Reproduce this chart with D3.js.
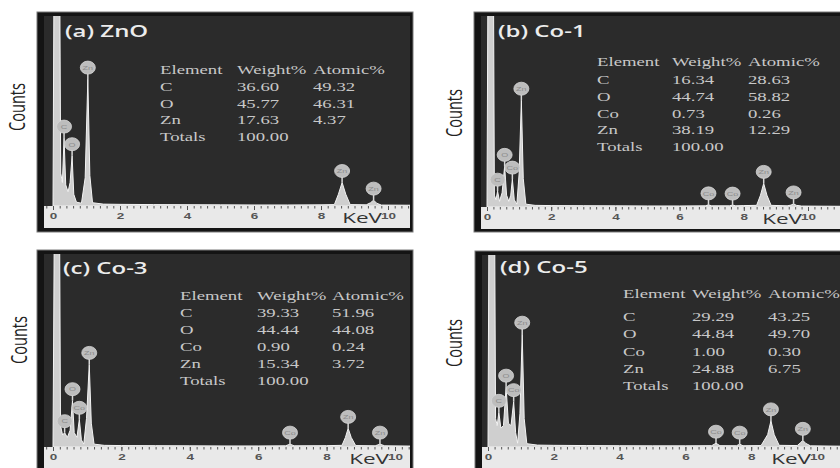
<!DOCTYPE html>
<html><head><meta charset="utf-8">
<script src="https://cdn.jsdelivr.net/npm/d3@7"></script>
<style>body{margin:0;background:#fff}svg{display:block}</style>
</head><body>
<svg id="fig" width="840" height="468"></svg>
<script>
// ---- data ----
const keVTicks = [0, 2, 4, 6, 8, 10];
const tableHeader = ["Element", "Weight%", "Atomic%"];
const panelTitles = ["(a) ZnO", "(b) Co-1", "(c) Co-3", "(d) Co-5"];

// composition tables: [element, weight %, atomic %]
const compA = [["C", "36.60", "49.32"], ["O", "45.77", "46.31"], ["Zn", "17.63", "4.37"], ["Totals", "100.00", ""]];
const compB = [["C", "16.34", "28.63"], ["O", "44.74", "58.82"], ["Co", "0.73", "0.26"], ["Zn", "38.19", "12.29"], ["Totals", "100.00", ""]];
const compC = [["C", "39.33", "51.96"], ["O", "44.44", "44.08"], ["Co", "0.90", "0.24"], ["Zn", "15.34", "3.72"], ["Totals", "100.00", ""]];
const compD = [["C", "29.29", "43.25"], ["O", "44.84", "49.70"], ["Co", "1.00", "0.30"], ["Zn", "24.88", "6.75"], ["Totals", "100.00", ""]];

// EDS spectra: [energy keV, counts]
const spectrumA = [[0, 0], [0.03, 5000], [0.2, 5000], [0.23, 700], [0.28, 500], [0.33, 1445], [0.38, 450], [0.45, 300], [0.51, 500], [0.57, 1070], [0.62, 250], [0.7, 80], [0.85, 60], [0.96, 600], [1.04, 2700], [1.1, 650], [1.18, 70], [1.5, 40], [2, 35], [3, 30], [4, 28], [5, 25], [6, 22], [7, 22], [8, 25], [8.4, 30], [8.52, 250], [8.63, 500], [8.74, 250], [8.87, 30], [9.35, 25], [9.48, 70], [9.57, 125], [9.66, 60], [9.8, 20], [11, 15]];
const spectrumB = [[0, 0], [0.03, 5000], [0.2, 5000], [0.23, 250], [0.28, 150], [0.33, 335], [0.39, 120], [0.47, 300], [0.55, 860], [0.61, 250], [0.68, 120], [0.74, 250], [0.79, 590], [0.85, 150], [0.93, 60], [1.0, 700], [1.07, 2260], [1.13, 600], [1.21, 60], [1.5, 35], [2, 30], [3, 28], [4, 25], [5, 22], [6, 22], [6.8, 25], [6.9, 45], [7.0, 25], [7.55, 25], [7.65, 40], [7.75, 25], [8.0, 30], [8.4, 35], [8.52, 250], [8.62, 500], [8.72, 250], [8.85, 35], [9.35, 25], [9.47, 40], [9.55, 65], [9.64, 35], [9.8, 20], [11, 15]];
const spectrumC = [[0, 0], [0.04, 5000], [0.19, 5000], [0.22, 450], [0.28, 250], [0.34, 300], [0.42, 200], [0.5, 350], [0.57, 970], [0.62, 300], [0.7, 200], [0.77, 580], [0.83, 150], [0.9, 60], [0.98, 600], [1.06, 1730], [1.12, 500], [1.2, 60], [1.5, 35], [2, 30], [3, 28], [4, 25], [5, 22], [6, 22], [6.8, 25], [6.93, 60], [7.05, 25], [8.0, 28], [8.45, 35], [8.55, 200], [8.63, 390], [8.72, 200], [8.85, 30], [9.42, 25], [9.56, 60], [9.7, 25], [11, 15]];
const spectrumD = [[0, 0], [0.03, 5000], [0.2, 5000], [0.23, 600], [0.28, 450], [0.33, 730], [0.39, 400], [0.47, 450], [0.55, 1260], [0.62, 500], [0.7, 450], [0.78, 955], [0.84, 300], [0.9, 80], [0.97, 700], [1.04, 2375], [1.1, 600], [1.18, 70], [1.5, 40], [2, 35], [3, 30], [4, 27], [5, 25], [6, 25], [6.8, 28], [6.93, 80], [7.05, 28], [7.55, 26], [7.65, 60], [7.75, 26], [8.3, 30], [8.5, 260], [8.6, 550], [8.7, 260], [8.85, 35], [9.4, 30], [9.5, 90], [9.57, 140], [9.65, 80], [9.8, 25], [11, 15]];

// peak identification markers: [element, energy keV, peak counts]
const markersA = [["C", 0.33, 1445], ["O", 0.57, 1070], ["Zn", 1.04, 2700], ["Zn", 8.63, 500], ["Zn", 9.57, 125]];
const markersB = [["C", 0.33, 335], ["O", 0.55, 860], ["Co", 0.79, 590], ["Zn", 1.07, 2260], ["Co", 6.9, 45], ["Co", 7.65, 40], ["Zn", 8.62, 500], ["Zn", 9.55, 65]];
const markersC = [["C", 0.34, 300], ["O", 0.57, 970], ["Co", 0.77, 580], ["Zn", 1.06, 1730], ["Co", 6.93, 60], ["Zn", 8.63, 390], ["Zn", 9.56, 60]];
const markersD = [["C", 0.33, 730], ["O", 0.55, 1260], ["Co", 0.78, 955], ["Zn", 1.04, 2375], ["Co", 6.93, 80], ["Co", 7.65, 60], ["Zn", 8.6, 550], ["Zn", 9.57, 140]];

// ---- layout ----
const SX = 1.5; // horizontal stretch applied to all lettering
const panels = [
  {title: panelTitles[0], comp: compA, spec: spectrumA, marks: markersA,
   fx: 37, fy: 12, fw: 376, fh: 220, x0: 53, x10: 388, base: 206,
   tx: 65, ty: 37, cols: [160, 237, 313], hy: 74, ry: 91, gap: 16.7, cx: 18, cy: 107},
  {title: panelTitles[1], comp: compB, spec: spectrumB, marks: markersB,
   fx: 474, fy: 12, fw: 380, fh: 220, x0: 487, x10: 808, base: 207,
   tx: 498, ty: 37, cols: [597, 672, 748], hy: 66, ry: 84, gap: 16.8, cx: 455, cy: 113},
  {title: panelTitles[2], comp: compC, spec: spectrumC, marks: markersC,
   fx: 37, fy: 250, fw: 376, fh: 230, x0: 53, x10: 395, base: 447,
   tx: 63, ty: 274, cols: [180, 257, 332], hy: 300, ry: 317, gap: 17, cx: 20, cy: 340},
  {title: panelTitles[3], comp: compD, spec: spectrumD, marks: markersD,
   fx: 475, fy: 251, fw: 380, fh: 230, x0: 488, x10: 817, base: 447,
   tx: 500, ty: 273, cols: [623, 692, 768], hy: 298, ry: 321, gap: 17.3, cx: 455, cy: 343}
];

const svg = d3.select("#fig");

function label(g, x, y, str) {
  return g.append("text")
    .attr("transform", `translate(${x},${y}) scale(${SX},1)`)
    .text(str);
}

panels.forEach((p, i) => {
  const g = svg.append("g");
  const ix = p.fx + 7, iy = p.fy + 4, iw = p.fw - 10;

  // outer frame and dark plotting field
  g.append("rect").attr("x", p.fx).attr("y", p.fy).attr("width", p.fw).attr("height", p.fh)
    .attr("fill", "#141414").attr("stroke", "#7a7a7a").attr("stroke-width", 1);
  g.append("rect").attr("x", ix).attr("y", iy).attr("width", iw).attr("height", p.base - iy)
    .attr("fill", "#2b2b2b");

  const x = d3.scaleLinear().domain([0, 10]).range([p.x0, p.x10]);
  const y = d3.scaleLinear().domain([0, 4000]).range([p.base, iy + 2]);

  const clipId = "clip" + i;
  g.append("clipPath").attr("id", clipId).append("rect")
    .attr("x", ix).attr("y", iy).attr("width", iw).attr("height", p.base - iy);

  // spectrum
  const area = d3.area().x(d => x(d[0])).y0(p.base).y1(d => y(d[1]));
  g.append("path").datum(p.spec).attr("clip-path", `url(#${clipId})`)
    .attr("d", area).attr("fill", "#cfcfcf")
    .attr("stroke", "#f3f3f3").attr("stroke-width", 1);

  // peak markers
  const mk = g.append("g").selectAll("g").data(p.marks).join("g")
    .attr("transform", d => `translate(${x(d[1])},${y(d[2])})`);
  mk.append("line").attr("x1", 0).attr("x2", 0).attr("y1", 0).attr("y2", -6)
    .attr("stroke", "#d8d8d8").attr("stroke-width", 1.5);
  mk.append("ellipse").attr("cx", 0).attr("cy", -11.5).attr("rx", 7.5).attr("ry", 6.5)
    .attr("fill", "#bdbdbd").attr("stroke", "#d6d6d6").attr("stroke-width", 0.8);
  mk.append("text").attr("transform", `translate(0,-9.2) scale(${SX},1)`)
    .attr("text-anchor", "middle").attr("font-family", "Liberation Sans, sans-serif")
    .attr("font-size", 6).attr("fill", "#8c8c8c").text(d => d[0]);

  // title
  label(g, p.tx, p.ty, p.title)
    .attr("font-family", "Open Sans, sans-serif").attr("font-weight", 600)
    .attr("font-size", 16).attr("fill", "#ececec");

  // composition table
  const tg = g.append("g").attr("font-family", "Liberation Serif, Times New Roman, serif")
    .attr("font-size", 12.5).attr("fill", "#c8c8c8");
  tableHeader.forEach((h, j) => label(tg, p.cols[j], p.hy, h));
  p.comp.forEach((row, r) => row.forEach((v, j) => {
    if (v) label(tg, p.cols[j], p.ry + r * p.gap, v);
  }));

  // energy axis strip
  g.append("rect").attr("x", ix).attr("y", p.base).attr("width", iw).attr("height", 22)
    .attr("fill", "#e9e9e9");
  const xFull = d3.scaleLinear().domain([x.invert(ix), x.invert(ix + iw)]).range([ix, ix + iw]);
  const minor = g.append("g").attr("transform", `translate(0,${p.base})`)
    .call(d3.axisBottom(xFull).ticks(60).tickSize(2.5).tickFormat(""));
  minor.select(".domain").remove();
  minor.selectAll("line").attr("stroke", "#555").attr("stroke-width", 1);
  const major = g.append("g").attr("transform", `translate(0,${p.base})`)
    .call(d3.axisBottom(x).tickValues(keVTicks).tickSize(4).tickPadding(3));
  major.select(".domain").remove();
  major.selectAll("line").attr("stroke", "#555");
  major.selectAll("text")
    .attr("font-family", "Liberation Sans, sans-serif").attr("font-weight", "bold")
    .attr("font-size", 9).attr("fill", "#555")
    .attr("transform", `scale(${SX},1)`);

  label(g, p.x10 - 6, p.base + 17, "KeV")
    .attr("text-anchor", "end").attr("font-family", "Open Sans, sans-serif")
    .attr("font-size", 15).attr("fill", "#333");

  // vertical axis title
  svg.append("text")
    .attr("transform", `translate(${p.cx},${p.cy}) scale(${SX},1) rotate(-90)`)
    .attr("text-anchor", "middle").attr("dy", "0.35em")
    .attr("font-family", "Open Sans, sans-serif").attr("font-size", 14)
    .attr("textLength", 48).attr("lengthAdjust", "spacingAndGlyphs")
    .attr("fill", "#222").text("Counts");
});
</script>
</body></html>
